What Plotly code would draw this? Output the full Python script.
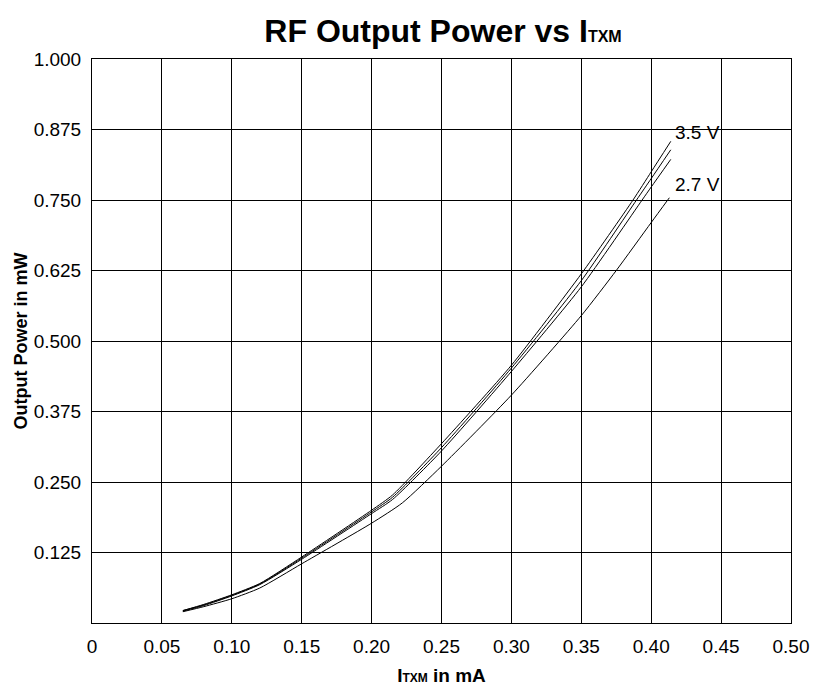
import plotly.graph_objects as go

# I_TXM in mA and output power in mW for four supply voltages
x_35 = [0.065, 0.08, 0.10, 0.12, 0.15, 0.20, 0.215, 0.25, 0.30, 0.35, 0.387, 0.40, 0.414]
y_35 = [0.022, 0.033, 0.050, 0.070, 0.117, 0.200, 0.227, 0.318, 0.457, 0.619, 0.750, 0.800, 0.854]

x_33 = [0.065, 0.08, 0.10, 0.12, 0.15, 0.20, 0.215, 0.25, 0.30, 0.35, 0.3895, 0.40, 0.414]
y_33 = [0.022, 0.032, 0.049, 0.069, 0.115, 0.197, 0.223, 0.311, 0.452, 0.607, 0.750, 0.788, 0.839]

x_30 = [0.065, 0.08, 0.10, 0.12, 0.15, 0.20, 0.215, 0.25, 0.30, 0.35, 0.3935, 0.40, 0.414]
y_30 = [0.021, 0.031, 0.048, 0.068, 0.113, 0.194, 0.219, 0.305, 0.446, 0.596, 0.750, 0.773, 0.822]

x_27 = [0.065, 0.08, 0.10, 0.12, 0.15, 0.20, 0.222, 0.25, 0.30, 0.35, 0.375, 0.40, 0.413]
y_27 = [0.020, 0.029, 0.043, 0.062, 0.105, 0.177, 0.213, 0.278, 0.404, 0.545, 0.625, 0.710, 0.754]

series = [("3.5 V", x_35, y_35), ("3.3 V", x_33, y_33), ("3.0 V", x_30, y_30), ("2.7 V", x_27, y_27)]

x_ticks = [0, 0.05, 0.10, 0.15, 0.20, 0.25, 0.30, 0.35, 0.40, 0.45, 0.50]
x_tick_labels = ["0", "0.05", "0.10", "0.15", "0.20", "0.25", "0.30", "0.35", "0.40", "0.45", "0.50"]
y_ticks = [0.125, 0.25, 0.375, 0.5, 0.625, 0.75, 0.875, 1.0]
y_tick_labels = ["0.125", "0.250", "0.375", "0.500", "0.625", "0.750", "0.875", "1.000"]

labels = [("3.5 V", 0.4153, 0.869), ("2.7 V", 0.4153, 0.778)]

FONT = "Liberation Sans, Arial, sans-serif"

fig = go.Figure()
for name, xs, ys in series:
    fig.add_trace(go.Scatter(x=xs, y=ys, mode="lines", name=name,
                             line=dict(color="black", width=1, shape="spline", smoothing=0.6),
                             showlegend=False))

for text, lx, ly in labels:
    fig.add_annotation(x=lx, y=ly, text=text, showarrow=False, xanchor="left", yanchor="middle",
                       font=dict(family=FONT, size=19, color="black"))

fig.update_layout(
    width=821, height=694,
    margin=dict(l=92, r=21, t=59, b=68),
    paper_bgcolor="white", plot_bgcolor="white",
    font=dict(family=FONT, size=19, color="black"),
    title=dict(text="<b>RF Output Power vs I<span style='font-size:16px'>TXM</span></b>",
               xref="container", x=0.5396, xanchor="center",
               yref="container", y=0.955, yanchor="middle",
               font=dict(family=FONT, size=32, color="black")),
)
fig.update_xaxes(range=[0, 0.5], tickvals=x_ticks, ticktext=x_tick_labels,
                 showgrid=True, gridcolor="black", gridwidth=1,
                 showline=True, linecolor="black", linewidth=1, mirror=True,
                 ticks="", zeroline=False, tickfont=dict(size=19), ticklabelstandoff=6,
                 ticklabeloverflow="allow",
                 title=dict(text="<b>I<span style='font-size:12px'>TXM</span> in mA</b>",
                            font=dict(size=19), standoff=12))
fig.update_yaxes(range=[0, 1.0], tickvals=y_ticks, ticktext=y_tick_labels,
                 showgrid=True, gridcolor="black", gridwidth=1,
                 showline=True, linecolor="black", linewidth=1, mirror=True,
                 ticks="", zeroline=False, tickfont=dict(size=19), ticklabelstandoff=6,
                 title=dict(text="<b>Output Power in mW</b>", font=dict(size=18), standoff=1))

fig.write_html(
    "out.html",
    config={"displayModeBar": False},
    post_script=("document.body.style.margin='0';"
                 "document.body.style.overflow='hidden';"
                 "document.documentElement.style.overflow='hidden';"),
)
